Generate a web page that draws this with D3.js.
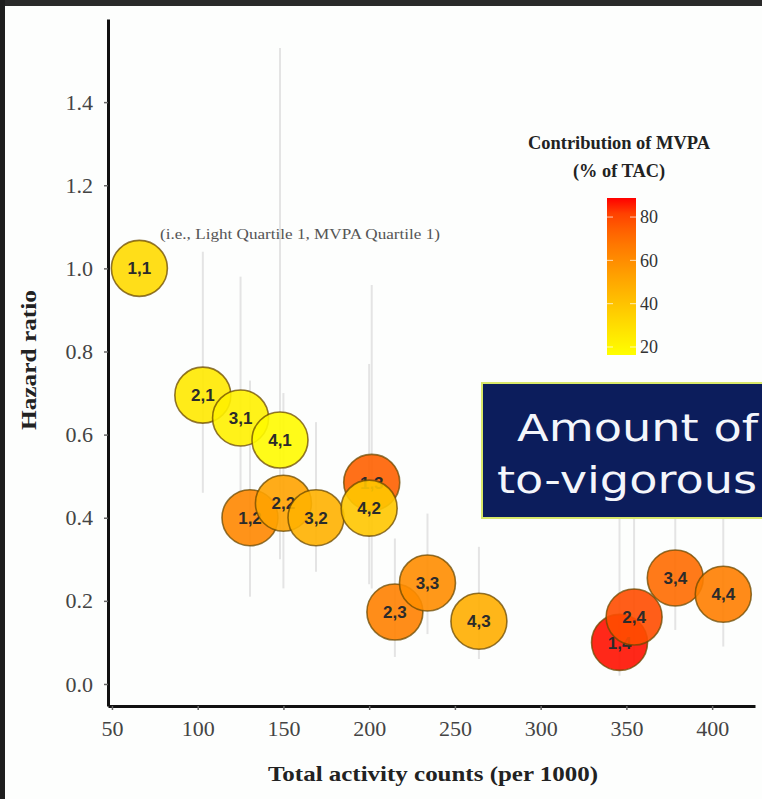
<!DOCTYPE html>
<html lang="en">
    <head>
        <meta charset="UTF-8" />
        <title>Hazard ratio by total activity counts</title>
        <style>
            body {
                margin: 0;
                padding: 0;
                background-color: #fdfefd;
            }
            svg {
                display: block;
            }
        </style>
    </head>
    <body>
        <div id="chart"></div>
        <script src="https://d3js.org/d3.v7.min.js"></script>
        <script>
            // groups: light quartile, MVPA quartile
            const labels = ['1,1', '1,2', '1,3', '1,4', '2,1', '2,2', '2,3', '2,4', '3,1', '3,2', '3,3', '3,4', '4,1', '4,2', '4,3', '4,4'];
            const tac = [66, 130.5, 201.5, 346, 103, 150, 215, 354.5, 125, 169, 234, 378.5, 148, 200, 264, 406.5];
            const hazard = [1.0, 0.4, 0.485, 0.1, 0.695, 0.435, 0.173, 0.161, 0.64, 0.4, 0.243, 0.255, 0.587, 0.423, 0.151, 0.216];
            const ciLow = [null, 0.21, 0.23, 0.02, 0.46, 0.23, 0.065, 0.05, 0.45, 0.27, 0.12, 0.13, 0.3, 0.24, 0.06, 0.09];
            const ciHigh = [null, 0.73, 0.96, 0.45, 1.04, 0.7, 0.35, 0.5, 0.98, 0.63, 0.41, 0.5, 1.53, 0.77, 0.33, 0.55];
            const mvpa = [31, 62, 74, 88, 25, 52, 64, 79, 22, 47, 60, 71, 18, 39, 48, 65];

            const yTicks = [0, 0.2, 0.4, 0.6, 0.8, 1.0, 1.2, 1.4];
            const xTicks = [50, 100, 150, 200, 250, 300, 350, 400];
            const legendTicks = [20, 40, 60, 80];
            const colourRange = [16.3, 88.8];

            const width = 762;
            const height = 799;
            const serif = "'Liberation Serif', 'Times New Roman', serif";

            const svg = d3.select('#chart').append('svg').attr('width', width).attr('height', height);

            // slide frame
            svg.append('rect').attr('x', 0).attr('y', 0).attr('width', width).attr('height', 6).attr('fill', '#2a2a2a');
            svg.append('rect').attr('x', 0).attr('y', 0).attr('width', 5).attr('height', height).attr('fill', '#1e1e1e');

            const x = d3.scaleLinear().domain([47.7, 425]).range([108, 755]);
            const y = d3.scaleLinear().domain([-0.053, 1.6]).range([706, 19]);
            const colour = d3.scaleLinear().domain(colourRange).range(['#ffff00', '#ff0000']).interpolate(d3.interpolateLab);

            const data = labels.map((l, i) => ({ label: l, x: tac[i], y: hazard[i], lo: ciLow[i], hi: ciHigh[i], m: mvpa[i] }));

            // confidence intervals
            svg.append('g')
                .selectAll('line')
                .data(data.filter((d) => d.lo !== null))
                .join('line')
                .attr('x1', (d) => x(d.x))
                .attr('x2', (d) => x(d.x))
                .attr('y1', (d) => y(d.lo))
                .attr('y2', (d) => y(d.hi))
                .attr('stroke', '#e4e4e4')
                .attr('stroke-width', 2);

            // axes
            const yAxis = svg.append('g').attr('transform', 'translate(108,0)').call(d3.axisLeft(y).tickValues(yTicks).tickFormat(d3.format('.1f')).tickSize(4).tickSizeOuter(0).tickPadding(11));
            const xAxis = svg.append('g').attr('transform', 'translate(0,706)').call(d3.axisBottom(x).tickValues(xTicks).tickSize(4).tickSizeOuter(0).tickPadding(10));
            [yAxis, xAxis].forEach((a) => {
                a.select('.domain').attr('stroke', '#111').attr('stroke-width', 3);
                a.selectAll('.tick line').attr('stroke', '#666').attr('stroke-width', 1.5);
                a.selectAll('.tick text').attr('fill', '#444').style('font-family', serif).style('font-size', '22px');
            });

            svg.append('text').attr('x', 268).attr('y', 781).attr('textLength', 330).attr('lengthAdjust', 'spacingAndGlyphs').style('font-family', serif).style('font-weight', 'bold').style('font-size', '21px').attr('fill', '#222').text('Total activity counts (per 1000)');
            svg.append('text').attr('transform', 'translate(36,360) rotate(-90)').attr('text-anchor', 'middle').attr('textLength', 140).attr('lengthAdjust', 'spacingAndGlyphs').style('font-family', serif).style('font-weight', 'bold').style('font-size', '21px').attr('fill', '#222').text('Hazard ratio');

            // points
            const pts = svg.append('g').selectAll('g').data(data).join('g').attr('transform', (d) => `translate(${x(d.x)},${y(d.y)})`);
            pts.append('circle').attr('r', 28).attr('fill', (d) => colour(d.m)).attr('fill-opacity', 0.9).attr('stroke', '#6b4a00').attr('stroke-opacity', 0.75).attr('stroke-width', 1.6);
            pts.append('text').attr('text-anchor', 'middle').attr('dy', '0.36em').style('font-family', "'Liberation Sans', Arial, sans-serif").style('font-weight', 'bold').style('font-size', '17px').attr('fill', '#2b2b2b').text((d) => d.label);

            svg.append('text').attr('x', 160).attr('y', 239).attr('textLength', 280).attr('lengthAdjust', 'spacingAndGlyphs').style('font-family', serif).style('font-size', '15px').attr('fill', '#555').text('(i.e., Light Quartile 1, MVPA Quartile 1)');

            // colour legend
            const grad = svg.append('defs').append('linearGradient').attr('id', 'mvpaGrad').attr('x1', 0).attr('x2', 0).attr('y1', 1).attr('y2', 0);
            d3.range(0, 1.01, 0.1).forEach((t) => {
                grad.append('stop').attr('offset', t).attr('stop-color', colour(colourRange[0] + t * (colourRange[1] - colourRange[0])));
            });
            const ly = d3.scaleLinear().domain(colourRange).range([355, 198]);
            svg.append('rect').attr('x', 607).attr('y', 198).attr('width', 29).attr('height', 157).attr('fill', 'url(#mvpaGrad)');
            const lg = svg.append('g').selectAll('g').data(legendTicks).join('g');
            lg.append('line').attr('x1', 607).attr('x2', 613).attr('y1', (d) => ly(d)).attr('y2', (d) => ly(d)).attr('stroke', '#fff').attr('stroke-opacity', 0.7);
            lg.append('line').attr('x1', 630).attr('x2', 636).attr('y1', (d) => ly(d)).attr('y2', (d) => ly(d)).attr('stroke', '#fff').attr('stroke-opacity', 0.7);
            lg.append('text').attr('x', 640).attr('y', (d) => ly(d)).attr('dy', '0.35em').style('font-family', serif).style('font-size', '18px').attr('fill', '#333').text((d) => d);

            svg.append('text').attr('x', 528).attr('y', 149).attr('textLength', 182).attr('lengthAdjust', 'spacingAndGlyphs').style('font-family', serif).style('font-weight', 'bold').style('font-size', '18px').attr('fill', '#222').text('Contribution of MVPA');
            svg.append('text').attr('x', 573).attr('y', 177).attr('textLength', 92).attr('lengthAdjust', 'spacingAndGlyphs').style('font-family', serif).style('font-weight', 'bold').style('font-size', '18px').attr('fill', '#222').text('(% of TAC)');

            // slide overlay box
            svg.append('rect').attr('x', 482).attr('y', 383).attr('width', 290).attr('height', 135).attr('fill', '#0c1d5c').attr('stroke', '#d9e86a').attr('stroke-width', 2);
            svg.append('text').attr('x', 517).attr('y', 441).attr('textLength', 241).attr('lengthAdjust', 'spacingAndGlyphs').style('font-family', "'DejaVu Sans', sans-serif").style('font-size', '38px').attr('fill', '#f4f6fb').text('Amount of');
            svg.append('text').attr('x', 497).attr('y', 493).attr('textLength', 260).attr('lengthAdjust', 'spacingAndGlyphs').style('font-family', "'DejaVu Sans', sans-serif").style('font-size', '38px').attr('fill', '#f4f6fb').text('to-vigorous');
        </script>
    </body>
</html>
